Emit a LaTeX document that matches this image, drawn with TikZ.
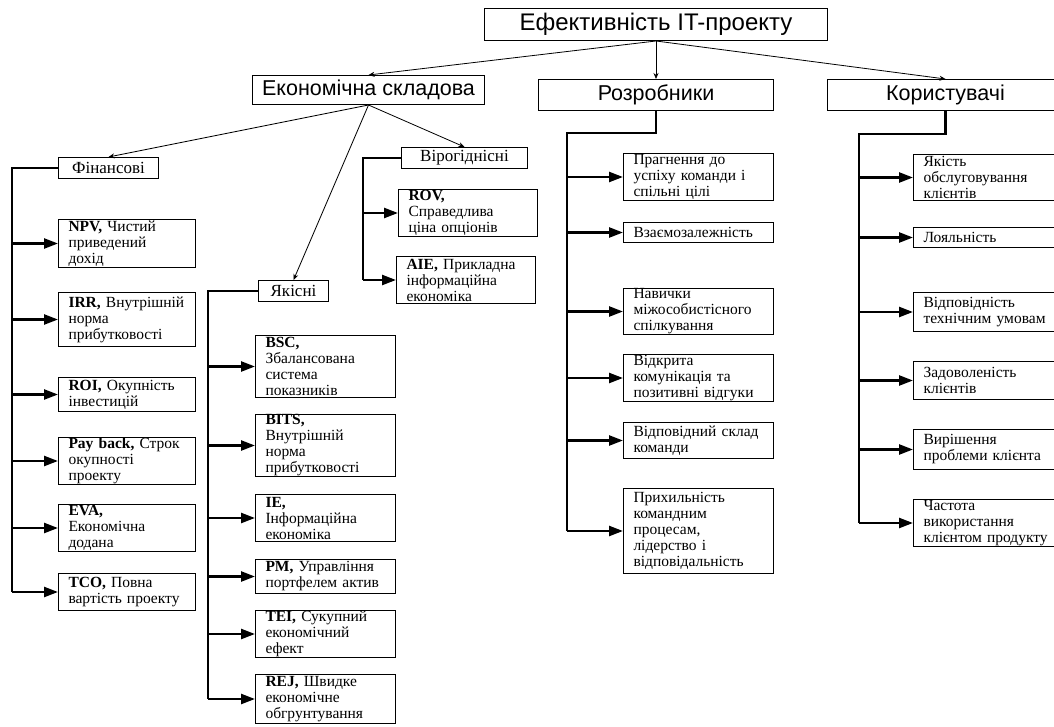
\documentclass[tikz,border=0pt]{standalone}
\usepackage{fontspec}
\setmainfont{Liberation Serif}
\newfontfamily\headfont{Liberation Sans}
\usetikzlibrary{arrows.meta,positioning}
\hyphenpenalty=10000

\begin{document}
\begin{tikzpicture}[x=1pt,y=-1pt,
  head/.style={draw,line width=1pt,anchor=north west,inner sep=0pt,font=\headfont\fontsize{21.5}{24}\selectfont},
  group/.style={draw,line width=1pt,anchor=north west,inner sep=0pt,font=\fontsize{17}{18}\selectfont},
  leaf/.style={draw,line width=1pt,anchor=north west,align=left,inner xsep=10pt,inner ysep=0pt,font=\fontsize{15.5}{16}\selectfont},
  leafA/.style={leaf,text width=117pt},
  leafB/.style={leaf,text width=120pt},
  leafC/.style={leaf,text width=119pt},
  leafD/.style={leaf,text width=130pt},
  leafE/.style={leaf,text width=140pt},
  link/.style={line width=.8pt,-{Stealth[length=6pt,width=5pt]}},
  bus/.style={line width=2.4pt},
  branch/.style={line width=2.4pt,-{Triangle[length=14pt,width=10pt]}}]
\useasboundingbox (0,0) rectangle (1054,727);
% top level
\node[head,minimum width=343pt,minimum height=32pt,font=\headfont\fontsize{24}{26}\selectfont] (eff) at (484,8) {Ефективність IT-проекту};
\node[head,minimum width=232pt,minimum height=29pt] (econ) at (252,75) {Економічна складова};
\node[head,minimum width=235pt,minimum height=31pt] (dev) at (538,79) {Розробники};
\node[head,minimum width=236pt,minimum height=31pt] (users) at (827,79) {Користувачі};
\draw[link] (eff.south) -- (econ.north);
\draw[link] (eff.south) -- (dev.north);
\draw[link] (eff.south) -- (users.north);
% economic groups
\node[group,minimum width=100pt,minimum height=21pt] (fin) at (58,157) {Фінансові};
\node[group,minimum width=70pt,minimum height=21pt] (qual) at (258,280) {Якісні};
\node[group,minimum width=126pt,minimum height=21pt] (prob) at (401,147) {Вірогіднісні};
\draw[link] (econ.south) -- (fin.north);
\draw[link] (econ.south) -- (qual.north);
\draw[link] (econ.south) -- (prob.north);
% financial
\coordinate (fb) at (12,0);
\node[leafA,minimum height=48pt] (npv) at (58,219) {\textbf{NPV,}~Чистий\\приведений\\дохід};
\node[leafA,minimum height=54pt] (irr) at (58,292) {\textbf{IRR,}~Внутрішній\\норма\\прибутковості};
\node[leafA,minimum height=34pt] (roi) at (58,377) {\textbf{ROI,}~Окупність\\інвестицій};
\node[leafA,minimum height=47pt] (pay) at (58,437) {\textbf{Pay~back,}~Строк\\окупності\\проекту};
\node[leafA,minimum height=47pt] (eva) at (58,504) {\textbf{EVA,}\\Економічна\\додана};
\node[leafA,minimum height=37pt] (tco) at (58,573) {\textbf{TCO,}~Повна\\вартість~проекту};
\draw[bus] (fin.west) -- (fin.west -| fb) -- (tco.west -| fb);
\foreach \n in {npv,irr,roi,pay,eva,tco}
  \draw[branch] (\n.west -| fb) -- (\n.west);
% qualitative
\coordinate (qb) at (208,0);
\node[leafB,minimum height=62pt] (bsc) at (255,335) {\textbf{BSC,}\\Збалансована\\система\\показників};
\node[leafB,minimum height=62pt] (bits) at (255,414) {\textbf{BITS,}\\Внутрішній\\норма\\прибутковості};
\node[leafB,minimum height=47pt] (ie) at (255,494) {\textbf{IE,}\\Інформаційна\\економіка};
\node[leafB,minimum height=34pt] (pm) at (255,559) {\textbf{PM,}~Управління\\портфелем~актив};
\node[leafB,minimum height=47pt] (tei) at (255,610) {\textbf{TEI,}~Сукупний\\економічний\\ефект};
\node[leafB,minimum height=49pt] (rej) at (255,674) {\textbf{REJ,}~Швидке\\економічне\\обгрунтування};
\draw[bus] (qual.west) -- (qual.west -| qb) -- (rej.west -| qb);
\foreach \n in {bsc,bits,ie,pm,tei,rej}
  \draw[branch] (\n.west -| qb) -- (\n.west);
% probabilistic
\coordinate (pb) at (363,0);
\node[leafC,minimum height=47pt] (rov) at (398,189) {\textbf{ROV,}\\Справедлива\\ціна~опціонів};
\node[leafC,minimum height=47pt] (aie) at (396,256) {\textbf{AIE,}~Прикладна\\інформаційна\\економіка};
\draw[bus] (prob.west) -- (prob.west -| pb) -- (aie.west -| pb);
\foreach \n in {rov,aie}
  \draw[branch] (\n.west -| pb) -- (\n.west);
% developers
\coordinate (db) at (567,0);
\node[leafD,minimum height=47pt] (d1) at (623,153) {Прагнення~до\\успіху~команди~і\\спільні~цілі};
\node[leafD,minimum height=20pt] (d2) at (623,222) {Взаємозалежність};
\node[leafD,minimum height=46pt] (d3) at (623,288) {Навички\\міжособистісного\\спілкування};
\node[leafD,minimum height=47pt] (d4) at (623,354) {Відкрита\\комунікація~та\\позитивні~відгуки};
\node[leafD,minimum height=36pt] (d5) at (623,422) {Відповідний~склад\\команди};
\node[leafD,minimum height=85pt] (d6) at (623,488) {Прихильність\\командним\\процесам,\\лідерство~і\\відповідальність};
\draw[bus] (dev.south) -- ++(0,22) -| (d6.west -| db);
\foreach \n in {d1,d2,d3,d4,d5,d6}
  \draw[branch] (\n.west -| db) -- (\n.west);
% users
\coordinate (ub) at (859,0);
\node[leafE,minimum height=46pt] (u1) at (913,154) {Якість\\обслуговування\\клієнтів};
\node[leafE,minimum height=20pt] (u2) at (913,227) {Лояльність};
\node[leafE,minimum height=39pt] (u3) at (913,292) {Відповідність\\технічним~умовам};
\node[leafE,minimum height=38pt] (u4) at (913,361) {Задоволеність\\клієнтів};
\node[leafE,minimum height=40pt] (u5) at (913,429) {Вирішення\\проблеми~клієнта};
\node[leafE,minimum height=47pt] (u6) at (913,499) {Частота\\використання\\клієнтом~продукту};
\draw[bus] (users.south) -- ++(0,23) -| (u6.west -| ub);
\foreach \n in {u1,u2,u3,u4,u5,u6}
  \draw[branch] (\n.west -| ub) -- (\n.west);
\end{tikzpicture}
\end{document}
